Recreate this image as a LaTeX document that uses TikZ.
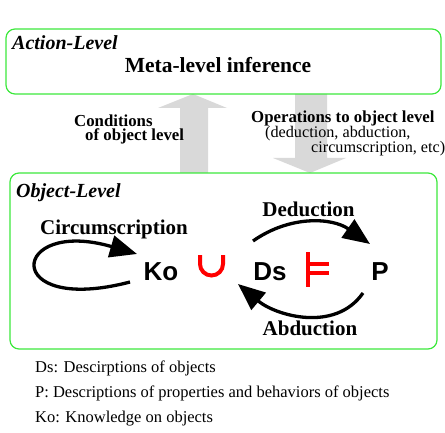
\documentclass[tikz,border=0pt]{standalone}
\usepackage{fontspec}
\setmainfont{Liberation Serif}
\setsansfont{Liberation Sans}
\usepackage{tikz}
\usetikzlibrary{arrows.meta}
\usepackage{xcolor}
\definecolor{levelgreen}{RGB}{60,232,60}
\definecolor{flowgray}{RGB}{217,217,217}

\begin{document}
\begin{tikzpicture}[x=1pt, y=1pt]

    % --- Global Settings ---
    \tikzset{
        levelbox/.style={draw=levelgreen, line width=1.2pt, rounded corners=9pt, inner sep=0pt},
        leveltitle/.style={anchor=base west, inner sep=0pt, font=\fontsize{20}{24}\selectfont\bfseries\itshape},
        flowlabel/.style={anchor=base west, inner sep=0pt, align=left},
        opname/.style={anchor=base, inner sep=0pt, font=\fontsize{21}{25}\selectfont\bfseries},
        symb/.style={anchor=base, inner sep=0pt, font=\fontsize{26}{30}\selectfont\sffamily\bfseries},
        legend/.style={anchor=base west, inner sep=0pt, font=\fontsize{16.5}{20}\selectfont},
        inferarrow/.style={line width=3.3pt, -{Triangle[length=27pt, width=22pt]}},
        redmark/.style={red, line width=4pt}
    }

    \useasboundingbox (0,0) rectangle (445,432);

    % --- Gray flows between the levels ---
    \fill[flowgray] (180,259) -- (180,324) -- (158,324) -- (193,338)
        -- (227,324) -- (208,324) -- (208,259) -- cycle;
    \fill[flowgray] (295,338) -- (295,274) -- (273,274) -- (310,259)
        -- (346,274) -- (327,274) -- (327,338) -- cycle;

    % --- Action level ---
    \node[levelbox, minimum width=435pt, minimum height=65pt] (action) at (223.5,370.5) {};
    \node[leveltitle] (actiontitle) at (12,382) {Action-Level};
    \node[anchor=base, inner sep=0pt, font=\fontsize{21.5}{25}\selectfont\bfseries] (meta) at (218,359.3) {Meta-level inference};

    % --- Texts on the flows (base = last line) ---
    \node[flowlabel, font=\fontsize{16.8}{14}\selectfont\bfseries] (cond) at (74,291.3)
        {Conditions\\\hspace*{11pt}of object level};
    \node[flowlabel, font=\fontsize{16.2}{15}\selectfont] (oper) at (251,279)
        {{\fontsize{16.8}{15}\selectfont\bfseries Operations to object level}\\
         \hspace*{14pt}(deduction, abduction,\\
         \hspace*{60pt}circumscription, etc)};

    % --- Object level ---
    \node[levelbox, minimum width=427pt, minimum height=176pt] (object) at (223.5,171) {};
    \node[leveltitle] (objecttitle) at (16,234) {Object-Level};

    \node[symb] (ko) at (161,152) {Ko};
    \node[symb] (ds) at (270,152) {Ds};
    \node[symb] (p) at (380,152) {P};

    % union and models signs
    \draw[redmark] (200,177) -- (200,168) arc (180:360:11.5) -- (223,177);
    \draw[redmark] (308,180) -- (308,145);
    \draw[red, line width=3.5pt] (308,168) -- (329,168);
    \draw[red, line width=3.5pt] (308,159) -- (329,159);

    % operations
    \node[opname] (deduct) at (308.5,215) {Deduction};
    \node[opname] (circum) at (114,197) {Circumscription};
    \node[opname] (abduct) at (310,97) {Abduction};

    \draw[inferarrow] ([shift={(-17,39)}]ds.base) to[out=35, in=145] ([shift={(-10,36)}]p.base);
    \draw[inferarrow] ([shift={(-17,-13)}]p.base) to[out=-125, in=-40] ([shift={(-32,-4)}]ds.base);
    \draw[inferarrow] ([shift={(-31,-2)}]ko.base) .. controls (0,116) and (10,215) .. ([shift={(-24,26)}]ko.base);

    % --- Legend ---
    \node[legend] (leg1) at (35,60) {Ds: Descirptions of objects};
    \node[legend] (leg2) at (35,35) {P: Descriptions of properties and behaviors of objects};
    \node[legend] (leg3) at (35,10) {Ko: Knowledge on objects};

\end{tikzpicture}
\end{document}
